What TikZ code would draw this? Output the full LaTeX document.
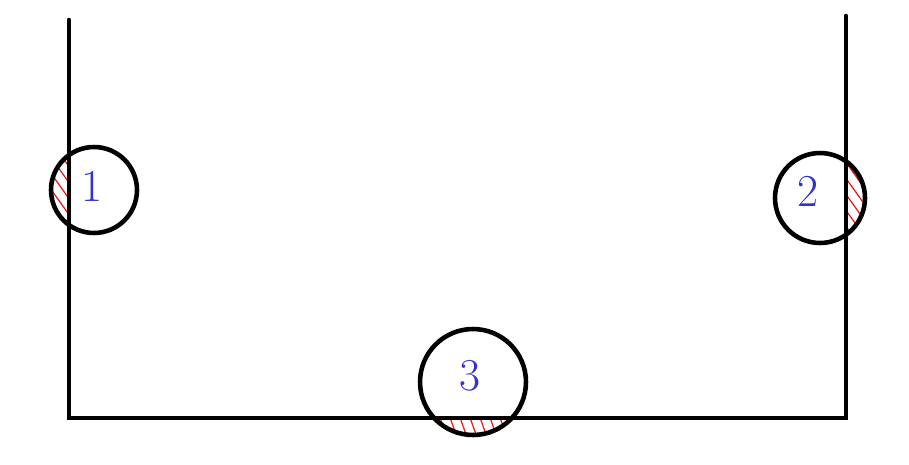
\documentclass[tikz,border=0pt]{standalone}
\definecolor{penblue}{RGB}{50,50,205}
\definecolor{hatchred}{RGB}{240,25,25}
\tikzset{
  wall/.style={line width=2.6pt, line cap=round},
  ball/.style={circle, draw, line width=2.6pt, inner sep=0pt},
  ballnum/.style={text=penblue, font=\fontsize{26}{26}\selectfont},
  hatch/.style={draw=hatchred, line width=0.7pt}
}
\begin{document}
\begin{tikzpicture}[x=0.02cm, y=-0.02cm]
    \useasboundingbox (0,0) rectangle (909,464);

    % zonas rayadas (fuera del recipiente)
    \begin{scope}
        \clip (94,190) circle (0.86cm);
        \clip (0,0) rectangle (69,464);
        \foreach \k in {110,126,...,260}
            \draw[hatch] (40,\k) -- (80,\k+56);
    \end{scope}
    \begin{scope}
        \clip (820,198) circle (0.9cm);
        \clip (846,0) rectangle (909,464);
        \foreach \k in {115,131,...,265}
            \draw[hatch] (835,\k) -- (875,\k+56);
    \end{scope}
    \begin{scope}
        \clip (473,382) circle (1.06cm);
        \clip (400,418) rectangle (560,464);
        \foreach \k in {428,438,...,530}
            \draw[hatch] (\k,412) -- (\k+10,440);
    \end{scope}

    % recipiente
    \coordinate (tl) at (69,20);
    \coordinate (bl) at (69,418);
    \coordinate (br) at (846,418);
    \coordinate (tr) at (846,16);
    \draw[wall] (tl) -- (bl) -- (br) -- (tr);

    % bolas
    \node[ball, minimum size=1.72cm] (b1) at (94,190) {};
    \node[ball, minimum size=1.8cm] (b2) at (820,198) {};
    \node[ball, minimum size=2.12cm] (b3) at (473,382) {};

    \node[ballnum] (n1) at (92,186) {1};
    \node[ballnum] (n2) at (808,191) {2};
    \node[ballnum] (n3) at (470,376) {3};

\end{tikzpicture}
\end{document}
